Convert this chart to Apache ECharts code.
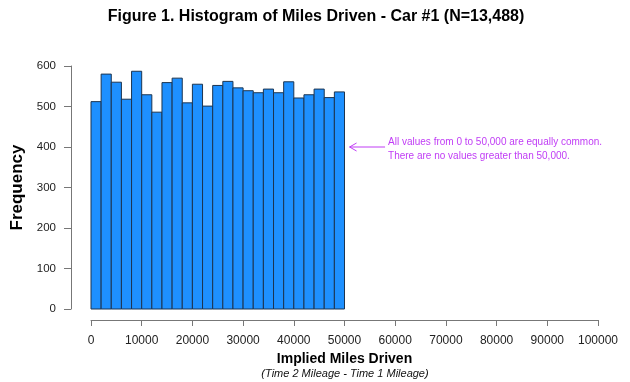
<!DOCTYPE html>
<html>
<head>
<meta charset="utf-8">
<script src="https://cdn.jsdelivr.net/npm/echarts@6/dist/echarts.min.js"></script>
<style>
html,body{margin:0;padding:0;background:#fff;}
#chart{width:630px;height:382px;}
</style>
</head>
<body>
<div id="chart"></div>
<script>
// Histogram bins (miles), width 2000
var binStarts = [0,2000,4000,6000,8000,10000,12000,14000,16000,18000,20000,22000,24000,26000,28000,30000,32000,34000,36000,38000,40000,42000,44000,46000,48000];
var binWidth = 2000;
var counts = [512,580,560,518,587,529,486,559,570,509,555,501,552,562,546,539,534,543,534,561,521,529,543,522,536];
var xTicks = [0,10000,20000,30000,40000,50000,60000,70000,80000,90000,100000];
var yTicks = [0,100,200,300,400,500,600];
var titleText = 'Figure 1. Histogram of Miles Driven - Car #1 (N=13,488)';
var noteLines = ['All values from 0 to 50,000 are equally common.', 'There are no values greater than 50,000.'];
var notePoint = [51000, 400];
var noteTail = [58000, 400];

var data = binStarts.map(function(s, i){ return [s, s + binWidth, counts[i]]; });

var chart = echarts.init(document.getElementById('chart'), null, {renderer:'canvas'});
var font = 'Liberation Sans, Arial, sans-serif';
var option = {
  animation: false,
  title: {
    text: titleText,
    left: 311, textAlign: 'center', top: 4,
    textStyle: {fontFamily: font, fontSize: 16, fontWeight: 'bold', color: '#000'}
  },
  grid: {left: 91, right: 32, top: 66, bottom: 73},
  xAxis: {
    type: 'value', min: 0, max: 100000, interval: 10000,
    offset: 11,
    name: 'Implied Miles Driven',
    nameLocation: 'middle', nameGap: 31,
    nameTextStyle: {fontFamily: font, fontSize: 14, fontWeight: 'bold', color: '#000'},
    axisLine: {show: true, onZero: false, lineStyle: {color: '#777', width: 1}},
    axisTick: {show: true, length: 6, lineStyle: {color: '#777'}},
    axisLabel: {fontFamily: font, fontSize: 12, color: '#222', margin: 15,
      formatter: function(v){ return String(v); }},
    splitLine: {show: false}
  },
  yAxis: {
    type: 'value', min: 0, max: 600, interval: 100,
    offset: 20,
    name: 'Frequency',
    nameLocation: 'middle', nameGap: 45, nameRotate: 90,
    nameTextStyle: {fontFamily: font, fontSize: 17, fontWeight: 'bold', color: '#000'},
    axisLine: {show: true, onZero: false, lineStyle: {color: '#777', width: 1}},
    axisTick: {show: true, length: 7, lineStyle: {color: '#777'}},
    axisLabel: {fontFamily: font, fontSize: 11.5, color: '#222', margin: 15},
    splitLine: {show: false}
  },
  series: [{
    type: 'custom',
    data: data,
    encode: {x: [0, 1], y: 2},
    renderItem: function(params, api){
      var p0 = api.coord([api.value(0), api.value(2)]);
      var p1 = api.coord([api.value(1), 0]);
      return {
        type: 'rect',
        shape: {x: p0[0], y: p0[1], width: p1[0] - p0[0], height: p1[1] - p0[1]},
        style: {fill: '#1E90FF', stroke: '#1d3550', lineWidth: 1}
      };
    }
  }]
};
chart.setOption(option);

var tip = chart.convertToPixel({gridIndex: 0}, notePoint);
var tail = chart.convertToPixel({gridIndex: 0}, noteTail);
var purple = '#c03cf5';
chart.setOption({
  graphic: [
    {type: 'line', shape: {x1: tip[0], y1: tip[1], x2: tail[0], y2: tail[1]}, style: {stroke: purple, lineWidth: 1}},
    {type: 'polyline', shape: {points: [[tip[0] + 7, tip[1] - 4], [tip[0], tip[1]], [tip[0] + 7, tip[1] + 4]]}, style: {stroke: purple, lineWidth: 1, fill: null}},
    {type: 'text', x: tail[0] + 3, y: tail[1] - 12, style: {text: noteLines.join('\n'), fill: purple, font: '10px ' + font, lineHeight: 14}},
    {type: 'text', x: 345, y: 368, style: {text: '(Time 2 Mileage - Time 1 Mileage)', fill: '#111', font: 'italic 11px ' + font, textAlign: 'center'}}
  ]
});
</script>
</body>
</html>
